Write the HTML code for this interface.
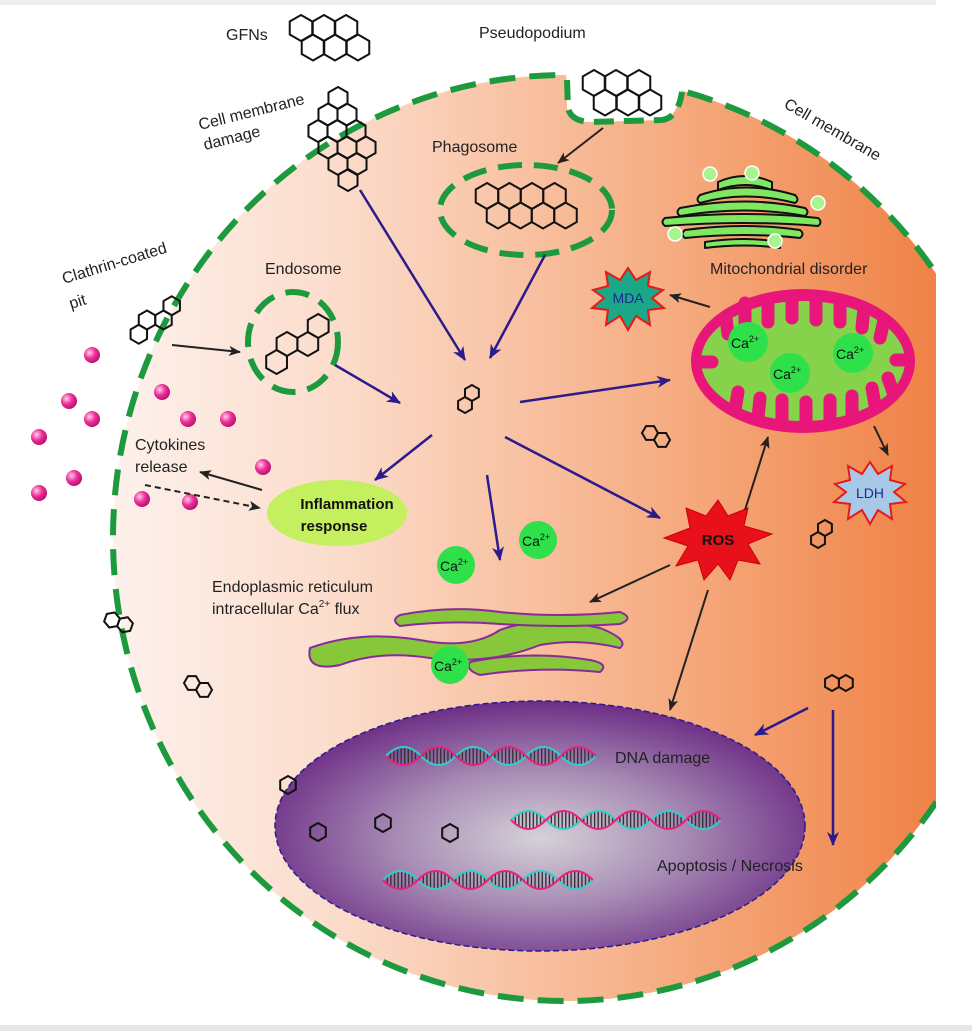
<!DOCTYPE html>
<html><head><meta charset="utf-8"><style>
html,body{margin:0;padding:0;background:#fff}
svg{display:block}
text{font-family:"Liberation Sans",sans-serif}
</style></head><body>
<svg width="972" height="1031" viewBox="0 0 972 1031" xmlns="http://www.w3.org/2000/svg">
<defs>
<linearGradient id="cg" x1="0" x2="1" y1="0" y2="0">
<stop offset="0" stop-color="#fdf1ec"/><stop offset="0.25" stop-color="#fbdccb"/>
<stop offset="0.6" stop-color="#f6ae84"/><stop offset="1" stop-color="#ee7534"/></linearGradient>
<radialGradient id="ng" cx="0.5" cy="0.55" r="0.55">
<stop offset="0" stop-color="#d6d2d8"/><stop offset="0.5" stop-color="#a68ab3"/><stop offset="1" stop-color="#6d2e86"/></radialGradient>
<radialGradient id="pb" cx="0.35" cy="0.35" r="0.7"><stop offset="0" stop-color="#ffd0ea"/><stop offset="0.5" stop-color="#f0309a"/><stop offset="1" stop-color="#b0106a"/></radialGradient>
<clipPath id="cc"><rect x="0" y="0" width="936" height="1031"/></clipPath>
<pattern id="bars" x="0" y="0" width="3.4" height="40" patternUnits="userSpaceOnUse"><rect x="0" y="0" width="1.3" height="40" fill="#333"/></pattern>
<g id="dna">
<path d="M0,0 q16.5,-18 33,0 t33,0 t33,0 t33,0 t33,0 t33,0 q-16.5,-18 -33,0 t-33,0 t-33,0 t-33,0 t-33,0 t-33,0 Z" fill="url(#bars)"/>
<path d="M0,0 q16.5,-18 33,0 t33,0 t33,0 t33,0 t33,0 t33,0" stroke="#2ed0c8" stroke-width="2" fill="none"/>
<path d="M0,0 q16.5,18 33,0 t33,0 t33,0 t33,0 t33,0 t33,0" stroke="#e8207e" stroke-width="2" fill="none"/>
</g>
<polygon id="h" points="0,-10 8.66,-5 8.66,5 0,10 -8.66,5 -8.66,-5" fill="none" stroke="#111" stroke-width="2" vector-effect="non-scaling-stroke"/>
<marker id="anb" markerWidth="14" markerHeight="12" refX="13" refY="6" orient="auto" markerUnits="userSpaceOnUse"><path d="M0,0 L14,6 L0,12 L4,6 Z" fill="#2b1b8c"/></marker>
<marker id="abb" markerWidth="12" markerHeight="10" refX="11" refY="5" orient="auto" markerUnits="userSpaceOnUse"><path d="M0,0 L12,5 L0,10 L3,5 Z" fill="#222"/></marker>
</defs>
<rect x="0" y="0" width="972" height="5" fill="#eeeeee"/>

<g clip-path="url(#cc)">
<ellipse cx="565" cy="538" rx="452" ry="463" fill="url(#cg)"/>
<ellipse cx="565" cy="538" rx="452" ry="463" fill="none" stroke="#1e9a3e" stroke-width="6" stroke-dasharray="26 14"/>
</g>
<path d="M566,60 L567,108 Q570,121 590,122 L662,120 Q678,118 682,86 L682,60 Z" fill="#fff"/>
<path d="M567,80 L568,108 Q571,121 590,122 L662,120 Q678,118 682,92" fill="none" stroke="#1e9a3e" stroke-width="6" stroke-dasharray="20 10"/>
<rect x="936" y="0" width="36" height="1031" fill="#fff"/>
<rect x="0" y="1025" width="972" height="6" fill="#e6e6e6"/>

<use href="#h" transform="translate(301,28) scale(1.3)"/><use href="#h" transform="translate(324,28) scale(1.3)"/><use href="#h" transform="translate(346,28) scale(1.3)"/>
<use href="#h" transform="translate(313,47.5) scale(1.3)"/><use href="#h" transform="translate(335,47.5) scale(1.3)"/><use href="#h" transform="translate(358,47.5) scale(1.3)"/>
<use href="#h" transform="translate(594,83) scale(1.3)"/><use href="#h" transform="translate(616,83) scale(1.3)"/><use href="#h" transform="translate(639,83) scale(1.3)"/>
<use href="#h" transform="translate(605,102.5) scale(1.3)"/><use href="#h" transform="translate(628,102.5) scale(1.3)"/><use href="#h" transform="translate(650,102.5) scale(1.3)"/>
<g transform="translate(-5,0)">
<use href="#h" transform="translate(343,98) scale(1.1)"/>
<use href="#h" transform="translate(333,114.5) scale(1.1)"/><use href="#h" transform="translate(352,114.5) scale(1.1)"/>
<use href="#h" transform="translate(323,131) scale(1.1)"/><use href="#h" transform="translate(342,131) scale(1.1)"/><use href="#h" transform="translate(361,131) scale(1.1)"/>
<use href="#h" transform="translate(333,147.5) scale(1.1)"/><use href="#h" transform="translate(352,147.5) scale(1.1)"/><use href="#h" transform="translate(371,147.5) scale(1.1)"/>
<use href="#h" transform="translate(343,164) scale(1.1)"/><use href="#h" transform="translate(362,164) scale(1.1)"/>
<use href="#h" transform="translate(353,180) scale(1.1)"/>
</g>
<use href="#h" transform="translate(147,320) scale(0.95)"/><use href="#h" transform="translate(163.5,320) scale(0.95)"/>
<use href="#h" transform="translate(171.7,305.8) scale(0.95)"/><use href="#h" transform="translate(138.8,334.2) scale(0.95)"/>

<ellipse cx="526" cy="210" rx="86" ry="45" fill="none" stroke="#1e9a3e" stroke-width="6" stroke-dasharray="24 12"/>
<use href="#h" transform="translate(487,196) scale(1.3)"/><use href="#h" transform="translate(509.5,196) scale(1.3)"/><use href="#h" transform="translate(532,196) scale(1.3)"/><use href="#h" transform="translate(554.5,196) scale(1.3)"/>
<use href="#h" transform="translate(498,215.5) scale(1.3)"/><use href="#h" transform="translate(520.5,215.5) scale(1.3)"/><use href="#h" transform="translate(543,215.5) scale(1.3)"/><use href="#h" transform="translate(565.5,215.5) scale(1.3)"/>
<ellipse cx="293" cy="342" rx="45" ry="50" fill="none" stroke="#1e9a3e" stroke-width="6" stroke-dasharray="24 12"/>
<use href="#h" transform="translate(287,344) scale(1.2)"/><use href="#h" transform="translate(307.8,344) scale(1.2)"/>
<use href="#h" transform="translate(318.2,326) scale(1.2)"/><use href="#h" transform="translate(276.6,362) scale(1.2)"/>

<g stroke="#111" stroke-width="2" fill="#7ee860" stroke-linejoin="round">
<path d="M718,182 Q745,170 772,182 L772,190 Q745,180 718,190 Z"/>
<path d="M700,195 Q745,180 795,195 Q800,200 795,203 Q745,190 700,203 Q695,200 700,195 Z"/>
<path d="M680,208 Q745,195 805,208 Q810,212 805,216 Q745,205 680,216 Q675,212 680,208 Z"/>
<path d="M665,218 Q745,210 818,218 Q823,222 818,226 Q745,220 665,226 Q660,222 665,218 Z"/>
<path d="M685,230 Q745,222 800,230 Q805,234 800,238 Q745,232 685,238 Q680,234 685,230 Z"/>
<path d="M705,242 Q745,236 780,242 L780,248 Q745,243 705,248 Z"/>
</g>
<g fill="#a8f590" stroke="#fff" stroke-width="1.5"><circle cx="710" cy="174" r="7"/><circle cx="752" cy="173" r="7"/><circle cx="818" cy="203" r="7"/><circle cx="675" cy="234" r="7"/><circle cx="775" cy="241" r="7"/></g>

<ellipse cx="803" cy="361" rx="112" ry="72" fill="#e8157a"/>
<ellipse cx="803" cy="361" rx="102" ry="60" fill="#86d24a"/>
<g stroke="#e8157a" stroke-width="13" stroke-linecap="round">
<line x1="745" y1="303" x2="745" y2="325"/><line x1="768" y1="301" x2="768" y2="322"/><line x1="792" y1="300" x2="792" y2="318"/><line x1="816" y1="300" x2="816" y2="320"/><line x1="840" y1="302" x2="840" y2="322"/><line x1="864" y1="308" x2="862" y2="328"/><line x1="884" y1="320" x2="880" y2="338"/>
<line x1="726" y1="318" x2="728" y2="334"/>
<line x1="735" y1="410" x2="738" y2="392"/><line x1="758" y1="418" x2="760" y2="398"/><line x1="782" y1="421" x2="782" y2="400"/><line x1="806" y1="422" x2="806" y2="402"/><line x1="830" y1="420" x2="830" y2="400"/><line x1="852" y1="416" x2="852" y2="396"/><line x1="875" y1="405" x2="872" y2="388"/><line x1="893" y1="392" x2="888" y2="378"/>
<line x1="700" y1="362" x2="712" y2="362"/><line x1="906" y1="360" x2="896" y2="360"/>
</g>
<g fill="#2ee04a"><circle cx="748" cy="342" r="20"/><circle cx="790" cy="373" r="20"/><circle cx="853" cy="353" r="20"/></g>
<g font-size="14" fill="#111"><text x="731" y="348">Ca<tspan font-size="9" dy="-6">2+</tspan></text><text x="773" y="379">Ca<tspan font-size="9" dy="-6">2+</tspan></text><text x="836" y="359">Ca<tspan font-size="9" dy="-6">2+</tspan></text></g>

<polygon points="628,268 636,280 650,272 648,286 663,290 652,298 664,308 648,310 650,325 636,316 628,330 620,316 606,325 608,310 592,308 604,298 593,290 608,286 606,272 620,280" fill="#1aa888" stroke="#e81818" stroke-width="2"/>
<text x="628" y="303" font-size="14" fill="#1a2a90" text-anchor="middle">MDA</text>
<polygon points="870,462 878,474 892,466 890,480 905,484 894,492 906,502 890,504 892,519 878,510 870,524 862,510 848,519 850,504 834,502 846,492 835,484 850,480 848,466 862,474" fill="#a8c8e8" stroke="#e81818" stroke-width="2"/>
<text x="870" y="498" font-size="14" fill="#1a2a90" text-anchor="middle">LDH</text>
<polygon points="718,500 728,516 748,508 744,526 772,534 748,544 760,564 738,560 730,580 718,564 704,580 698,560 676,566 688,546 664,538 690,528 686,508 706,516" fill="#e8101a" stroke="#c00" stroke-width="1"/>
<text x="718" y="545" font-size="15" font-weight="bold" fill="#111" text-anchor="middle">ROS</text>

<g stroke="#8a2a9a" stroke-width="2" fill="#86c83a">
<path d="M310,648 Q360,630 420,640 Q470,650 500,630 Q540,615 600,628 Q630,640 620,648 Q580,638 540,645 Q490,665 430,658 Q380,650 340,665 Q305,672 310,648 Z"/>
<path d="M400,615 Q450,605 500,612 Q560,618 620,612 Q635,618 620,624 Q560,628 500,624 Q450,620 400,626 Q390,620 400,615 Z"/>
<path d="M470,662 Q530,650 590,660 Q610,664 600,672 Q540,666 480,675 Q465,670 470,662 Z"/>
</g>

<g fill="#2ee04a"><circle cx="456" cy="565" r="19"/><circle cx="538" cy="540" r="19"/><circle cx="450" cy="665" r="19"/></g>
<g font-size="14" fill="#111"><text x="440" y="571">Ca<tspan font-size="9" dy="-6">2+</tspan></text><text x="522" y="546">Ca<tspan font-size="9" dy="-6">2+</tspan></text><text x="434" y="671">Ca<tspan font-size="9" dy="-6">2+</tspan></text></g>

<ellipse cx="540" cy="826" rx="265" ry="125" fill="url(#ng)" stroke="#2b1b8c" stroke-width="1.5" stroke-dasharray="6 3"/>
<use href="#dna" transform="translate(386,756) scale(1.06,1)"/>
<use href="#dna" transform="translate(511,820) scale(1.06,1)"/>
<use href="#dna" transform="translate(383,880) scale(1.06,1)"/>

<use href="#h" transform="translate(288,785) scale(0.9)"/>
<use href="#h" transform="translate(318,832) scale(0.9)"/>
<use href="#h" transform="translate(383,823) scale(0.9)"/>
<use href="#h" transform="translate(450,833) scale(0.9)"/>
<g transform="translate(465,405) rotate(-60) scale(0.8)"><use href="#h"/><use href="#h" x="17.32"/></g>
<g transform="translate(650,433) rotate(30) scale(0.8)"><use href="#h"/><use href="#h" x="17.32"/></g>
<g transform="translate(818,540) rotate(-60) scale(0.8)"><use href="#h"/><use href="#h" x="17.32"/></g>
<g transform="translate(112,620) rotate(20) scale(0.8)"><use href="#h"/><use href="#h" x="17.32"/></g>
<g transform="translate(192,683) rotate(30) scale(0.8)"><use href="#h"/><use href="#h" x="17.32"/></g>
<g transform="translate(832,683) scale(0.8)"><use href="#h"/><use href="#h" x="17.32"/></g>

<g fill="url(#pb)">
<circle cx="92" cy="355" r="8"/><circle cx="162" cy="392" r="8"/><circle cx="69" cy="401" r="8"/><circle cx="92" cy="419" r="8"/><circle cx="188" cy="419" r="8"/><circle cx="228" cy="419" r="8"/><circle cx="39" cy="437" r="8"/><circle cx="263" cy="467" r="8"/><circle cx="74" cy="478" r="8"/><circle cx="39" cy="493" r="8"/><circle cx="142" cy="499" r="8"/><circle cx="190" cy="502" r="8"/>
</g>

<ellipse cx="337" cy="513" rx="70" ry="33" fill="#c4f060"/>
<text x="347" y="509" font-size="15" font-weight="bold" fill="#111" text-anchor="middle">Inflammation</text>
<text x="334" y="531" font-size="15" font-weight="bold" fill="#111" text-anchor="middle">response</text>

<g stroke="#2b1b8c" stroke-width="2.5" fill="none" marker-end="url(#anb)">
<line x1="360" y1="190" x2="465" y2="360"/>
<line x1="545" y1="255" x2="490" y2="358"/>
<line x1="335" y1="365" x2="400" y2="403"/>
<line x1="520" y1="402" x2="670" y2="380"/>
<line x1="432" y1="435" x2="375" y2="480"/>
<line x1="487" y1="475" x2="500" y2="560"/>
<line x1="505" y1="437" x2="660" y2="518"/>
<line x1="808" y1="708" x2="755" y2="735"/>
<line x1="833" y1="710" x2="833" y2="845"/>
</g>
<g stroke="#222" stroke-width="2" fill="none" marker-end="url(#abb)">
<line x1="603" y1="128" x2="558" y2="163"/>
<line x1="172" y1="345" x2="240" y2="352"/>
<line x1="710" y1="307" x2="670" y2="295"/>
<line x1="874" y1="426" x2="888" y2="455"/>
<line x1="745" y1="510" x2="768" y2="437"/>
<line x1="670" y1="565" x2="590" y2="602"/>
<line x1="708" y1="590" x2="670" y2="710"/>
<line x1="262" y1="490" x2="200" y2="472"/>
<line x1="145" y1="485" x2="260" y2="508" stroke-dasharray="6 4"/>
</g>

<g font-size="16" fill="#222">
<text x="226" y="40">GFNs</text>
<text x="479" y="38">Pseudopodium</text>
<text x="200" y="130" transform="rotate(-14 200 130)">Cell membrane</text>
<text x="205" y="150" transform="rotate(-14 205 150)">damage</text>
<text x="783" y="107" transform="rotate(30 783 107)">Cell membrane</text>
<text x="432" y="152">Phagosome</text>
<text x="265" y="274">Endosome</text>
<text x="64" y="284" transform="rotate(-17 64 284)">Clathrin-coated</text>
<text x="71" y="309" transform="rotate(-17 71 309)">pit</text>
<text x="710" y="274">Mitochondrial disorder</text>
<text x="135" y="450">Cytokines</text>
<text x="135" y="472">release</text>
<text x="212" y="592">Endoplasmic reticulum</text>
<text x="212" y="614">intracellular Ca<tspan font-size="10" dy="-7">2+</tspan><tspan dy="7"> flux</tspan></text>
<text x="615" y="763">DNA damage</text>
<text x="657" y="871">Apoptosis / Necrosis</text>
</g>
</svg>
</body></html>
